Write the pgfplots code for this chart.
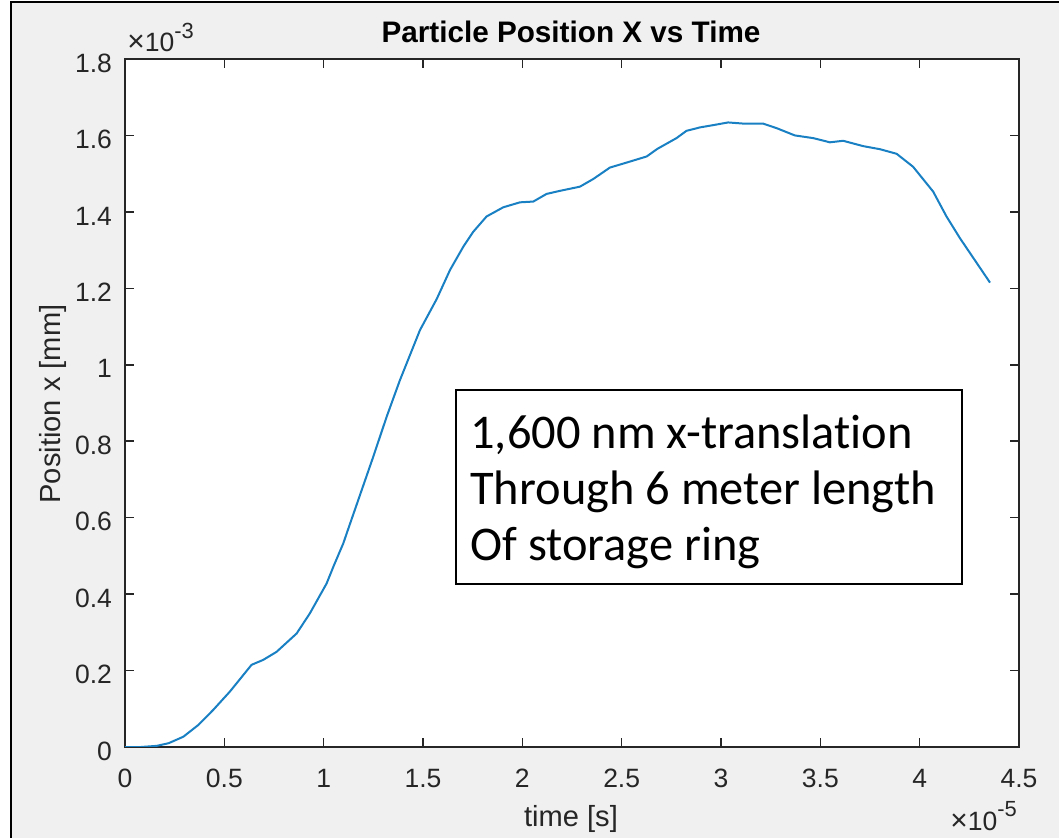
\documentclass[border=0pt]{standalone}
\usepackage{pgfplots}
\pgfplotsset{compat=1.18}
\usepackage{fontspec}
\setmainfont{Liberation Sans}
\newfontfamily\calibri[Ligatures=NoCommon]{Carlito}
\definecolor{mblue}{RGB}{0,114,189}
\definecolor{mgray}{RGB}{38,38,38}
\definecolor{figbg}{RGB}{240,240,240}
\begin{document}
\begin{tikzpicture}
\path[use as bounding box] (0,0) rectangle (529.5bp,419bp);
\fill[figbg] (5.5bp,0) rectangle (529.5bp,418bp);
\draw[black,line width=1bp] (5.5bp,0) -- (5.5bp,418bp) -- (529.5bp,418bp);
\begin{axis}[
  at={(62.5bp,45.5bp)}, anchor=south west,
  scale only axis, width=447bp, height=344bp,
  xmin=0, xmax=4.5, ymin=0, ymax=1.8,
  xtick={0,0.5,1,1.5,2,2.5,3,3.5,4,4.5},
  xticklabels={0,0.5,1,1.5,2,2.5,3,3.5,4,4.5},
  ytick={0,0.2,0.4,0.6,0.8,1,1.2,1.4,1.6,1.8},
  yticklabels={0,0.2,0.4,0.6,0.8,1,1.2,1.4,1.6,1.8},
  /pgf/number format/assume math mode=true,
  tick align=inside, xtick pos=both, ytick pos=both,
  xticklabel pos=lower, yticklabel pos=left,
  major tick length=4.5bp,
  axis line style={draw=mgray, line width=0.8bp},
  tick style={mgray, line width=0.8bp},
  axis background/.style={fill=white},
  ticklabel style={font=\fontsize{13.3}{16}\selectfont, text=mgray},
  xticklabel style={anchor=base, yshift=-20bp},
  yticklabel style={anchor=east, xshift=-3bp, yshift=-2bp},
]
\addplot[mblue!90!white, line width=1bp, line join=round] coordinates {
(0,0) (0.08,0.0) (0.16,0.003) (0.22,0.010) (0.294,0.027) (0.37,0.058)
(0.444,0.097) (0.528,0.145) (0.637,0.215) (0.696,0.228) (0.763,0.249)
(0.864,0.297) (0.931,0.350) (0.973,0.389) (1.015,0.428) (1.049,0.472)
(1.099,0.533) (1.116,0.559) (1.174,0.646) (1.250,0.760) (1.317,0.864)
(1.384,0.960) (1.485,1.091) (1.569,1.172) (1.636,1.248) (1.703,1.309)
(1.753,1.348) (1.820,1.388) (1.904,1.412) (1.988,1.425) (2.055,1.427)
(2.122,1.447) (2.189,1.455) (2.290,1.466) (2.357,1.486) (2.441,1.516)
(2.525,1.529) (2.626,1.545) (2.680,1.565) (2.776,1.593) (2.826,1.612)
(2.894,1.621) (2.961,1.627) (3.036,1.634) (3.112,1.631) (3.212,1.631)
(3.280,1.619) (3.372,1.600) (3.464,1.593) (3.548,1.582) (3.615,1.586)
(3.716,1.572) (3.800,1.564) (3.884,1.552) (3.967,1.518) (4.068,1.453)
(4.135,1.388) (4.203,1.331) (4.354,1.215)
};
\end{axis}
% title and labels
\node[anchor=base, inner sep=0, font=\bfseries\fontsize{14.9}{17}\selectfont] at (285.5bp,397.5bp) {Particle Position X vs Time};
\node[anchor=base, inner sep=0, text=mgray, font=\fontsize{14.6}{17}\selectfont] at (285.5bp,6bp) {time [s]};
\node[anchor=base, rotate=90, inner sep=0, text=mgray, font=\fontsize{14.6}{17}\selectfont] at (30bp,217bp) {Position x [mm]};
\node[anchor=base west, inner sep=0, text=mgray, font=\fontsize{13.3}{16}\selectfont] at (63.5bp,393.2bp) {{\fontsize{15}{16}\selectfont ×}10\raisebox{0.5em}{\fontsize{11}{12}\selectfont -3}};
\node[anchor=base west, inner sep=0, text=mgray, font=\fontsize{13.3}{16}\selectfont] at (475bp,4bp) {{\fontsize{15}{16}\selectfont ×}10\raisebox{0.5em}{\fontsize{11}{12}\selectfont -5}};
% text box
\draw[black, line width=1bp, fill=white] (228bp,127bp) rectangle (481bp,224bp);
\begin{scope}[every node/.style={anchor=base west, inner sep=0, font=\calibri\fontsize{24.3}{28}\selectfont}]
\node at (235bp,194.5bp) {1,600 nm x-translation};
\node at (235bp,166.5bp) {Through 6 meter length};
\node at (235bp,138.5bp) {Of storage ring};
\end{scope}
\end{tikzpicture}
\end{document}
